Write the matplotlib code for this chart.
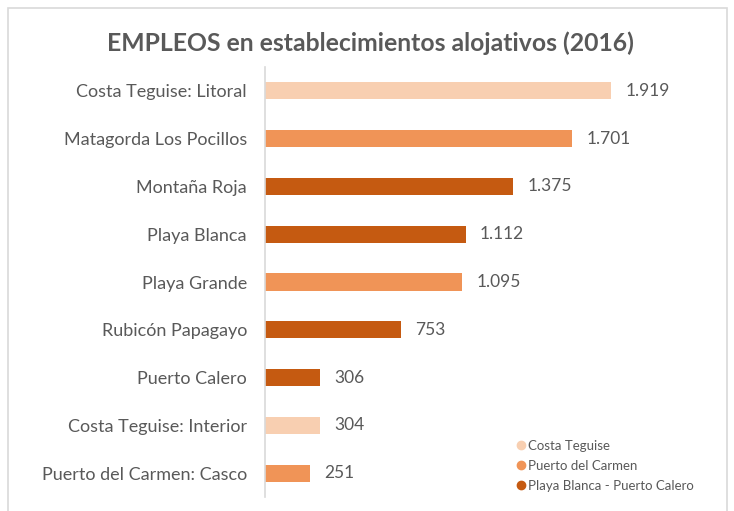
import matplotlib
matplotlib.use("Agg")
import matplotlib.pyplot as plt
from matplotlib.patches import Rectangle
from matplotlib.lines import Line2D

plt.rcParams["font.family"] = ["Lato", "DejaVu Sans"]

# data, top to bottom as drawn
zonas = ["Costa Teguise: Litoral", "Matagorda Los Pocillos", "Montaña Roja",
         "Playa Blanca", "Playa Grande", "Rubicón Papagayo", "Puerto Calero",
         "Costa Teguise: Interior", "Puerto del Carmen: Casco"]
empleos = [1919, 1701, 1375, 1112, 1095, 753, 306, 304, 251]
grupo = ["Costa Teguise", "Puerto del Carmen", "Playa Blanca - Puerto Calero",
         "Playa Blanca - Puerto Calero", "Puerto del Carmen",
         "Playa Blanca - Puerto Calero", "Playa Blanca - Puerto Calero",
         "Costa Teguise", "Puerto del Carmen"]
grupos = ["Costa Teguise", "Puerto del Carmen", "Playa Blanca - Puerto Calero"]

colores = {"Costa Teguise": "#F8CFB1",
           "Puerto del Carmen": "#F09457",
           "Playa Blanca - Puerto Calero": "#C55A11"}
txt = "#595959"

fig = plt.figure(figsize=(7.34, 5.11), dpi=100)
# chart frame (Excel-style border)
fig.patches.append(Rectangle((8 / 734, -0.05), 719 / 734, 1.05 - 8 / 511,
                             transform=fig.transFigure, fill=False,
                             ec="#D9D9D9", lw=1.2))

ax = fig.add_axes([265 / 734, 14 / 511, 435 / 734, 430 / 511])
ypos = list(range(len(zonas)))[::-1]
ax.barh(ypos, empleos, height=0.36, color=[colores[g] for g in grupo])
for y, v in zip(ypos, empleos):
    ax.text(v + 80, y, f"{v:,}".replace(",", "."), va="center", ha="left",
            fontsize=12.5, color=txt)

ax.set_xlim(0, 2412)
ax.set_ylim(-0.5, len(zonas) - 0.5)
ax.set_yticks(ypos)
ax.set_yticklabels(zonas, fontsize=13, color=txt)
ax.tick_params(axis="y", length=0, pad=13)
ax.set_xticks([])
for s in ("top", "right", "bottom"):
    ax.spines[s].set_visible(False)
ax.spines["left"].set_color("#D9D9D9")
ax.spines["left"].set_linewidth(1.2)

fig.text(370 / 734, 1 - 43 / 511, "EMPLEOS en establecimientos alojativos (2016)",
         ha="center", va="center", fontsize=17.8, fontweight="bold", color=txt)

handles = [Line2D([], [], ls="", marker="o", ms=6, color=colores[g]) for g in grupos]
fig.legend(handles, grupos, loc="lower left", bbox_to_anchor=(510 / 734, 14 / 511),
           frameon=False, fontsize=9.5, labelcolor=txt, handletextpad=0.15,
           handlelength=0.8, labelspacing=0.6, borderaxespad=0)

fig.savefig("out.png", dpi=100)
